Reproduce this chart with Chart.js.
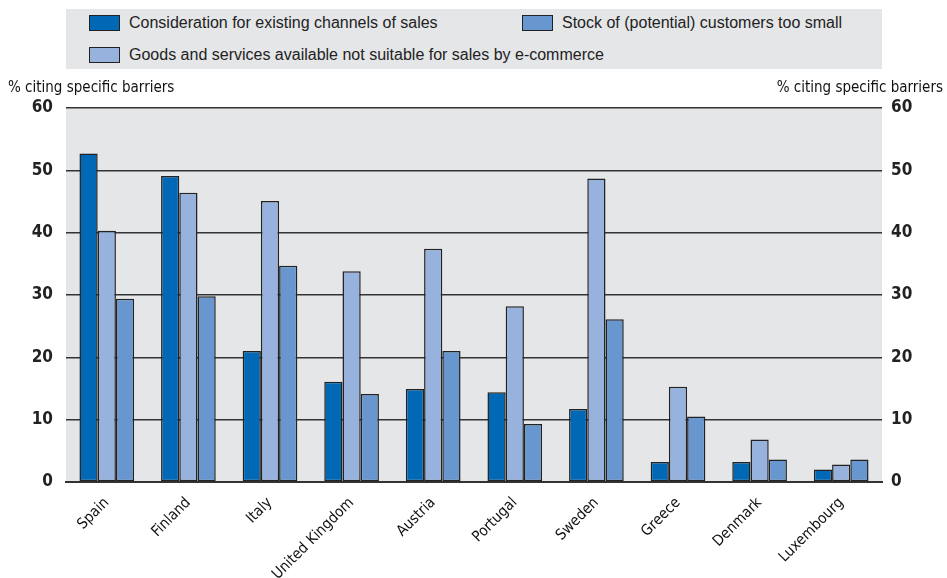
<!DOCTYPE html>
<html>
<head>
<meta charset="utf-8">
<script src="https://cdn.jsdelivr.net/npm/chart.js@4"></script>
<style>
    body { margin: 0; background: #fff; }
    #wrap { position: relative; width: 947px; height: 578px; }
    #legend {
        position: absolute; left: 66px; top: 9px; width: 816px; height: 60px;
        background: #e5e6e8; font-family: Arial, "Liberation Sans", sans-serif; font-size: 16px; color: #222;
    }
    .legend-item { position: absolute; display: flex; align-items: center; white-space: nowrap; }
    .legend-item .swatch { width: 29px; height: 14px; border: 1px solid #222; margin-right: 9px; }
    .axis-title {
        position: absolute; top: 78px; font-family: "Liberation Sans Narrow", "Arial Narrow", "DejaVu Sans Condensed", sans-serif;
        font-size: 15px; color: #111; white-space: nowrap;
    }
</style>
</head>
<body>
<div id="wrap">
    <canvas id="chart" width="947" height="578"></canvas>
    <div id="legend"></div>
    <div class="axis-title" style="left: 8px;">% citing specific barriers</div>
    <div class="axis-title" style="right: 4px;">% citing specific barriers</div>
</div>
<script>
    const countries = ['Spain', 'Finland', 'Italy', 'United Kingdom', 'Austria', 'Portugal', 'Sweden', 'Greece', 'Denmark', 'Luxembourg'];
    const existingChannels = [52.7, 49.1, 21.0, 16.1, 14.9, 14.4, 11.7, 3.2, 3.2, 2.0];
    const goodsNotSuitable = [40.3, 46.4, 45.1, 33.8, 37.4, 28.2, 48.7, 15.3, 6.8, 2.8];
    const stockTooSmall = [29.4, 29.8, 34.7, 14.1, 21.0, 9.3, 26.1, 10.5, 3.6, 3.6];
    const yTicks = [0, 10, 20, 30, 40, 50, 60];

    const COLORS = {
        dark: '#0068b4',
        light: '#97b3dd',
        medium: '#6897cf',
        plot: '#e5e6e8',
        line: '#333333'
    };

    const narrow = '"Liberation Sans Narrow", "Arial Narrow", "DejaVu Sans Condensed", sans-serif';
    const tickFont = { family: narrow, size: 17, weight: 'bold' };
    const labelFont = { family: narrow, size: 15 };

    const datasets = [
        { label: 'Consideration for existing channels of sales', data: existingChannels, backgroundColor: COLORS.dark },
        { label: 'Goods and services available not suitable for sales by e-commerce', data: goodsNotSuitable, backgroundColor: COLORS.light },
        { label: 'Stock of (potential) customers too small', data: stockTooSmall, backgroundColor: COLORS.medium }
    ].map(ds => ({
        ...ds,
        borderColor: '#222',
        borderWidth: 1.5,
        borderSkipped: false,
        barPercentage: 1,
        categoryPercentage: 0.67
    }));

    // plot area background
    const plotBackground = {
        id: 'plotBackground',
        beforeDraw(chart) {
            const { ctx, chartArea } = chart;
            ctx.save();
            ctx.fillStyle = COLORS.plot;
            ctx.fillRect(chartArea.left, chartArea.top, chartArea.right - chartArea.left, chartArea.bottom - chartArea.top);
            ctx.restore();
        }
    };

    const yAxis = (position, padding, width) => ({
        position: position,
        min: 0,
        max: 60,
        afterBuildTicks: scale => { scale.ticks = yTicks.map(v => ({ value: v })); },
        afterFit: scale => { scale.width = width; },
        border: { display: false },
        grid: {
            display: position === 'left',
            drawTicks: false,
            color: COLORS.line,
            lineWidth: 1.5
        },
        ticks: { padding: padding, color: '#222', font: tickFont }
    });

    const chart = new Chart(document.getElementById('chart'), {
        type: 'bar',
        data: { labels: countries, datasets: datasets },
        options: {
            responsive: false,
            animation: false,
            layout: { padding: { top: 108, left: 0, right: 0, bottom: 0 } },
            plugins: {
                legend: { display: false },
                tooltip: { enabled: false }
            },
            scales: {
                x: {
                    afterFit: scale => { scale.height = 96; },
                    grid: { display: false },
                    border: { display: true, color: COLORS.line, width: 2 },
                    ticks: {
                        minRotation: 45,
                        maxRotation: 45,
                        padding: 4,
                        color: '#111',
                        font: labelFont
                    }
                },
                y: yAxis('left', 13, 66),
                y2: yAxis('right', 9, 65)
            }
        },
        plugins: [plotBackground]
    });

    // legend laid out like the original: two items on first row, one on second
    const legend = document.querySelector('#legend');
    const legendSpots = [
        { index: 0, left: 23, top: 5 },
        { index: 2, left: 456, top: 5 },
        { index: 1, left: 23, top: 37 }
    ];
    legendSpots.forEach(spot => {
        const ds = chart.data.datasets[spot.index];
        legend.insertAdjacentHTML('beforeend',
            `<div class="legend-item" style="left:${spot.left}px; top:${spot.top}px;">
                <span class="swatch" style="background:${ds.backgroundColor}"></span>
                <span>${ds.label}</span>
            </div>`
        );
    });
</script>
</body>
</html>
